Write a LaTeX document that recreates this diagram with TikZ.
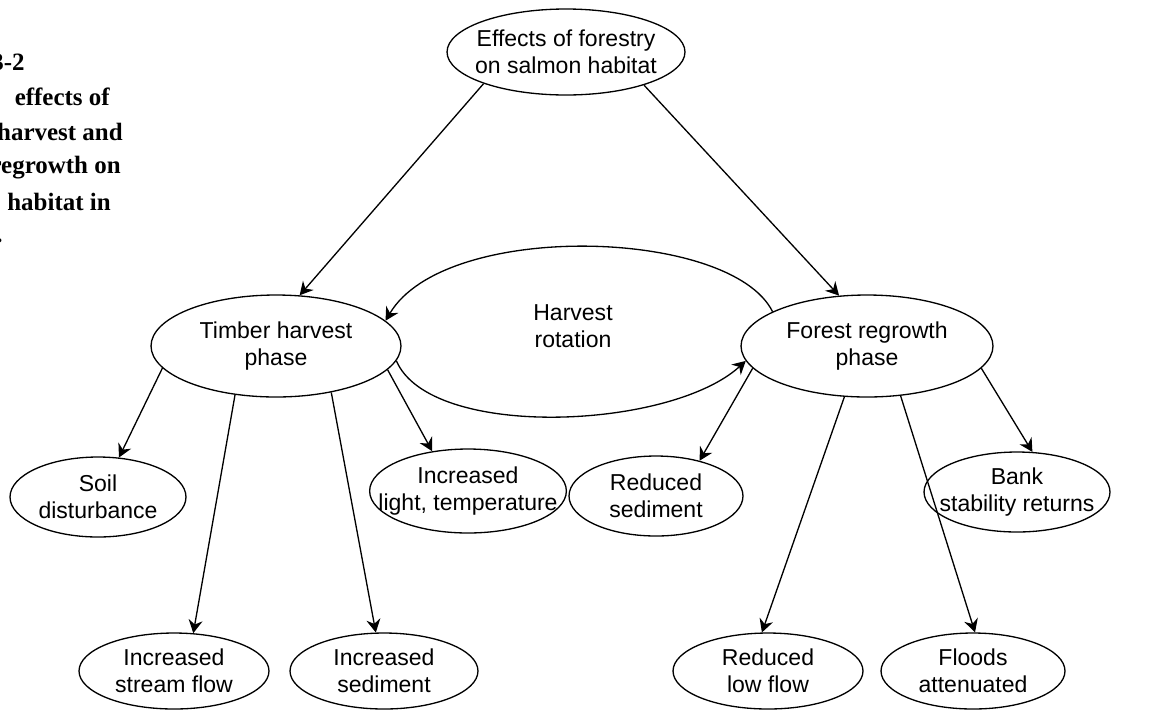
\documentclass[tikz,border=0pt]{standalone}
\usepackage{fontspec}
\setmainfont{Liberation Sans}
\newfontfamily\capfont{Liberation Serif}
\usetikzlibrary{arrows.meta,shapes.geometric}

\begin{document}
\begin{tikzpicture}[
                        x=0.02cm, y=-0.02cm,
                        >={Stealth[length=7.5pt,width=8pt,inset=2.5pt]},
                        bubble/.style 2 args={ellipse, draw, line width=0.75pt, align=center,
                            inner xsep=-0.4cm, inner ysep=0pt, minimum width=#1, minimum height=#2,
                            font=\fontsize{13.1}{15.4}\selectfont},
                        caption/.style={anchor=base east, inner sep=0pt,
                            font=\capfont\bfseries\fontsize{14.2}{18}\selectfont}
                    ]
                    \useasboundingbox (0,0) rectangle (1155,711);

                    % Caption (cut at the left edge)
                    \node [caption] (cap1) at (25,70) {3-2};
                    \node [caption] (cap2) at (110,105) {effects of};
                    \node [caption] (cap3) at (123,140) {harvest and};
                    \node [caption] (cap4) at (121,173) {regrowth on};
                    \node [caption] (cap5) at (111,210) {habitat in};
                    \node [caption] (cap6) at (3,242) {.};

                    % Blocks
                    \node [bubble={4.76cm}{1.72cm}] (effects) at (566,52) {Effects of forestry\\on salmon habitat};
                    \node [bubble={5.0cm}{2.04cm}] (timber) at (276,346) {Timber harvest\\phase};
                    \node [bubble={5.04cm}{2.04cm}] (regrowth) at (867,346) {Forest regrowth\\phase};
                    \node [align=center, font=\fontsize{13.1}{15.4}\selectfont] (rotation) at (573,326) {Harvest\\rotation};

                    \node [bubble={3.52cm}{1.6cm}] (soil) at (98,497) {Soil\\disturbance};
                    \node [bubble={3.92cm}{1.68cm}] (light) at (468,491) {Increased\\light, temperature};
                    \node [bubble={3.8cm}{1.52cm}] (flow) at (174,671) {Increased\\stream flow};
                    \node [bubble={3.76cm}{1.52cm}] (sedup) at (384,671) {Increased\\sediment};

                    \node [bubble={3.48cm}{1.6cm}] (seddown) at (656,496) {Reduced\\sediment};
                    \node [bubble={3.72cm}{1.6cm}] (bank) at (1017,492) {Bank\\stability returns};
                    \node [bubble={3.8cm}{1.52cm}] (lowflow) at (768,671) {Reduced\\low flow};
                    \node [bubble={3.68cm}{1.52cm}] (floods) at (973,671) {Floods\\attenuated};

                    % Connections
                    \draw [->, line width=0.75pt] (effects.201) -- (timber.65);
                    \draw [->, line width=0.75pt] (effects.337) -- (regrowth.119);

                    \draw [->, line width=0.75pt] (regrowth.160) .. controls (731,228) and (445,220) .. (timber.13);
                    \draw [->, line width=0.75pt] (timber.353) .. controls (430,440) and (670,430) .. (regrowth.187);

                    \draw [->, line width=0.75pt] (timber.191) -- (soil.62);
                    \draw [->, line width=0.75pt] (timber.230) -- (flow.63);
                    \draw [->, line width=0.75pt] (timber.320) -- (sedup.102);
                    \draw [->, line width=0.75pt] (timber.348) -- (light.132);

                    \draw [->, line width=0.75pt] (regrowth.191) -- (seddown.39);
                    \draw [->, line width=0.75pt] (regrowth.246) -- (lowflow.99);
                    \draw [->, line width=0.75pt] (regrowth.304) -- (floods.87);
                    \draw [->, line width=0.75pt] (regrowth.349) -- (bank.69);
                \end{tikzpicture}
\end{document}
